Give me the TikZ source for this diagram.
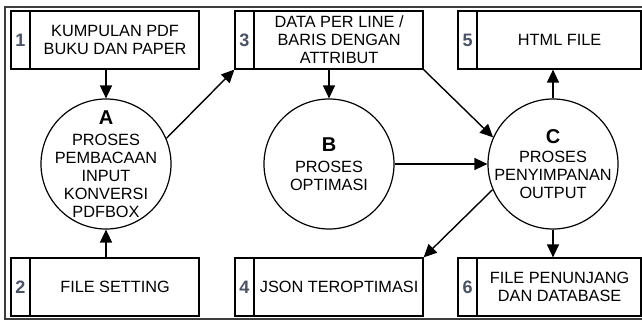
\documentclass[tikz,border=0pt]{standalone}
\usepackage{fontspec}
\setmainfont{Liberation Sans}
\usetikzlibrary{arrows.meta,calc}
\definecolor{numgray}{HTML}{4B5263}
\definecolor{framegray}{HTML}{3C3C3C}
\begin{document}
\begin{tikzpicture}[x=1pt,y=-1pt,
  box/.style={draw=black, line width=1.2pt, minimum width=#1, minimum height=58pt, inner sep=0pt},
  numcell/.style={draw=black, line width=1.2pt, minimum width=19pt, minimum height=58pt, inner sep=0pt,
    anchor=west, text=numgray, font=\fontsize{18}{18}\selectfont\bfseries},
  boxtext/.style={align=center, inner sep=0pt, font=\fontsize{16.3}{18}\selectfont},
  proc/.style={draw=black, line width=1.2pt, circle, minimum size=130pt, inner sep=0pt},
  proctext/.style={align=center, inner sep=0pt, font=\fontsize{16.3}{18}\selectfont},
  arr/.style={line width=1.4pt, -{Triangle[length=13pt,width=12pt]}}
]
\useasboundingbox (0,0) rectangle (642,322);
\begin{scope}
\clip (0,0) rectangle (642,322);
\draw[framegray, line width=1.8pt] (5,7) rectangle (700,319);
% boxes
\node[box=188pt] (b1) at (105,40) {};
\node[numcell] (n1) at (b1.west) {1};
\node[boxtext] (t1) at ($(n1.east)!0.5!(b1.east)$) {KUMPULAN PDF\\BUKU DAN PAPER};

\node[box=188pt] (b2) at (105,287) {};
\node[numcell] (n2) at (b2.west) {2};
\node[boxtext] (t2) at ($(n2.east)!0.5!(b2.east)$) {FILE SETTING};

\node[box=188pt] (b3) at (329,40) {};
\node[numcell] (n3) at (b3.west) {3};
\node[boxtext] (t3) at ($(n3.east)!0.5!(b3.east)$) {DATA PER LINE /\\BARIS DENGAN\\ATTRIBUT};

\node[box=188pt] (b4) at (329,287) {};
\node[numcell] (n4) at (b4.west) {4};
\node[boxtext] (t4) at ($(n4.east)!0.5!(b4.east)$) {JSON TEROPTIMASI};

\node[box=183pt] (b5) at (549.5,40) {};
\node[numcell] (n5) at (b5.west) {5};
\node[boxtext] (t5) at ($(n5.east)!0.5!(b5.east)$) {HTML FILE};

\node[box=183pt] (b6) at (549.5,287) {};
\node[numcell] (n6) at (b6.west) {6};
\node[boxtext] (t6) at ($(n6.east)!0.5!(b6.east)$) {FILE PENUNJANG\\DAN DATABASE};

% processes
\node[proc] (A) at (106,164) {};
\node[proctext] (tA) at (A.center) {{\fontsize{20}{20}\selectfont\bfseries A}\\[3pt]PROSES\\PEMBACAAN\\INPUT\\KONVERSI\\PDFBOX};
\node[proc] (B) at (329,164) {};
\node[proctext] (tB) at (B.center) {{\fontsize{20}{20}\selectfont\bfseries B}\\[3pt]PROSES\\OPTIMASI};
\node[proc] (C) at (553,164) {};
\node[proctext] (tC) at (C.center) {{\fontsize{20}{20}\selectfont\bfseries C}\\[1pt]PROSES\\PENYIMPANAN\\OUTPUT};

% flows
\draw[arr] (A.north |- b1.south) -- (A.north);
\draw[arr] (A.south |- b2.north) -- (A.south);
\draw[arr] (A.23) -- (b3.south west);
\draw[arr] (B.north |- b3.south) -- (B.north);
\draw[arr] (b3.south east) -- (C.156);
\draw[arr] (B.east) -- (C.west);
\draw[arr] (C.north) -- (C.north |- b5.south);
\draw[arr] (C.203) -- (b4.north east);
\draw[arr] (C.south) -- (C.south |- b6.north);
\end{scope}
\end{tikzpicture}
\end{document}
